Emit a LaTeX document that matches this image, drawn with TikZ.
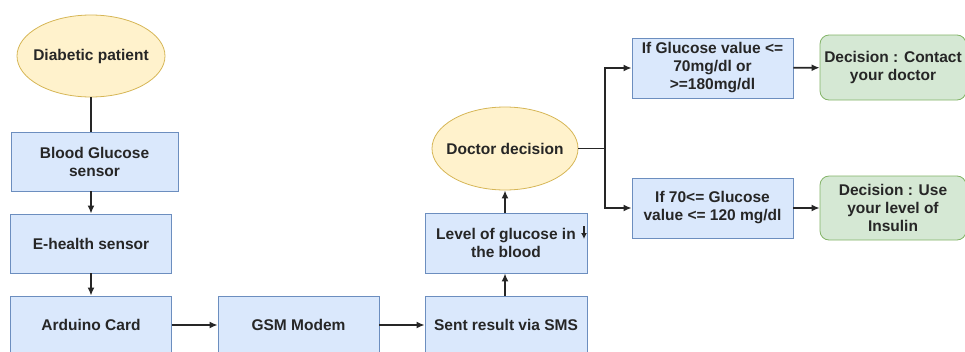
\documentclass[tikz,border=0pt]{standalone}
\usepackage{fontspec}
\setmainfont{Liberation Sans}
\usetikzlibrary{shapes.geometric,arrows.meta}
\definecolor{startfill}{HTML}{FFF2CC}
\definecolor{startline}{HTML}{D6B656}
\definecolor{stepfill}{HTML}{DAE8FC}
\definecolor{stepline}{HTML}{6C8EBF}
\definecolor{endfill}{HTML}{D5E8D4}
\definecolor{endline}{HTML}{82B366}
\definecolor{inkgray}{HTML}{262626}
\begin{document}
\begin{tikzpicture}[x=1pt,y=-1pt]
        \tikzstyle{every node}=[font=\bfseries\fontsize{15.5}{18}\selectfont, text=inkgray, align=center, inner sep=1pt]
        \tikzstyle{oval}=[ellipse, draw=startline, fill=startfill, line width=0.8pt, inner xsep=-9pt, inner ysep=0pt]
        \tikzstyle{stepbox}=[rectangle, draw=stepline, fill=stepfill, line width=0.8pt, minimum width=161pt, minimum height=59pt]
        \tikzstyle{endbox}=[rectangle, rounded corners=9pt, draw=endline, fill=endfill, line width=0.8pt, minimum width=146pt, minimum height=64pt]
        \tikzstyle{link}=[draw=inkgray, line width=1.6pt, -{Latex[length=8pt,width=7pt]}]
        \useasboundingbox (0,0) rectangle (965,351);
        % left column
        \node[oval, minimum width=148pt, minimum height=82pt] (patient) at (91,56) {Diabetic patient};
        \node[stepbox, minimum width=167pt] (bgsensor) at (94.5,161.5) {Blood Glucose\\sensor};
        \node[stepbox] (ehealth) at (91,243.5) {E-health sensor};
        \node[stepbox, minimum height=58pt] (arduino) at (91,325) {Arduino Card};
        % bottom row
        \node[stepbox, minimum height=58pt] (gsm) at (298.5,325) {GSM Modem};
        \node[stepbox, minimum width=162pt, minimum height=58pt] (sms) at (506,325) {Sent result via SMS};
        \node[stepbox, minimum width=162pt, minimum height=60pt] (level) at (506,243) {Level of glucose in\\the blood};
        \node[oval, minimum width=146pt, minimum height=83pt] (doctor) at (505,148.5) {Doctor decision};
        % decisions
        \node[stepbox, minimum height=60pt] (low) at (712.5,68) {If Glucose value <=\\70mg/dl or\\>=180mg/dl};
        \node[stepbox, minimum height=60pt] (normal) at (712.5,208) {If 70<= Glucose\\value <= 120 mg/dl};
        \node[endbox, minimum height=65pt] (contact) at (893,67.5) {Decision : Contact\\your doctor};
        \node[endbox] (insulin) at (893,208) {Decision : Use\\your level of\\Insulin};
        \coordinate (split) at (605,148.5);
        \coordinate (tickA) at (584,226);
        \coordinate (tickB) at (584,239);

        \draw[draw=inkgray, line width=1.6pt] (patient.south) -- (patient.south |- bgsensor.north);
        \draw[link] (bgsensor.south -| ehealth.north) -- (ehealth.north);
        \draw[link] (ehealth) -- (arduino);
        \draw[link] (arduino) -- (gsm);
        \draw[link] (gsm) -- (sms);
        \draw[link] (sms.north -| doctor.south) -- (level.south -| doctor.south);
        \draw[link] (level.north -| doctor.south) -- (doctor.south);
        \draw[link, line width=1.2pt, -{Latex[length=6pt,width=6pt]}] (tickA) -- (tickB);
        \draw[draw=inkgray, line width=1.6pt] (doctor.east) -- (split);
        \draw[link] (split) |- (low.west);
        \draw[link] (split) |- (normal.west);
        \draw[link] (low) -- (contact);
        \draw[link] (normal) -- (insulin);
\end{tikzpicture}
\end{document}
